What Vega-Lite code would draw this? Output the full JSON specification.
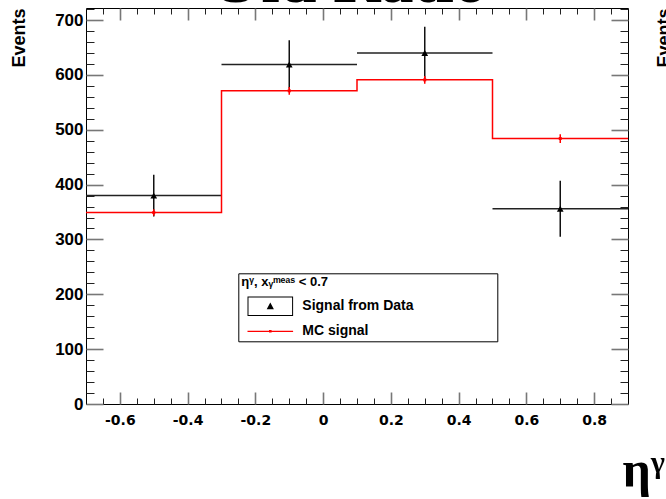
{
  "$schema": "https://vega.github.io/schema/vega-lite/v6.json",
  "width": 542,
  "height": 396,
  "autosize": "none",
  "padding": {"left": 86, "top": 8, "right": 38, "bottom": 95},
  "background": "white",
  "config": {
    "view": {"stroke": "black", "strokeWidth": 1},
    "axis": {"grid": false, "domain": false}
  },
  "data": {
    "values": [
      {"series": "Signal from Data", "center": -0.5, "lo": -0.7, "hi": -0.3, "value": 380, "low": 342, "high": 418},
      {"series": "Signal from Data", "center": -0.1, "lo": -0.3, "hi": 0.1, "value": 619, "low": 575, "high": 663},
      {"series": "Signal from Data", "center": 0.3, "lo": 0.1, "hi": 0.5, "value": 640, "low": 592, "high": 688},
      {"series": "Signal from Data", "center": 0.7, "lo": 0.5, "hi": 0.9, "value": 356, "low": 305, "high": 407},
      {"series": "MC signal", "center": -0.5, "lo": -0.7, "hi": -0.3, "value": 349, "low": 343, "high": 355},
      {"series": "MC signal", "center": -0.1, "lo": -0.3, "hi": 0.1, "value": 571, "low": 564, "high": 578},
      {"series": "MC signal", "center": 0.3, "lo": 0.1, "hi": 0.5, "value": 591, "low": 584, "high": 598},
      {"series": "MC signal", "center": 0.7, "lo": 0.5, "hi": 0.9, "value": 484, "low": 476, "high": 492}
    ]
  },
  "resolve": {"axis": {"x": "independent", "y": "independent"}},
  "layer": [
    {
      "mark": {"type": "point", "filled": true, "size": 0, "opacity": 1},
      "encoding": {
        "x": {
          "field": "center", "type": "quantitative",
          "scale": {"domain": [-0.7, 0.9], "nice": false, "zero": false},
          "axis": {
            "orient": "bottom",
            "values": [-0.65,-0.6,-0.55,-0.5,-0.45,-0.4,-0.35,-0.3,-0.25,-0.2,-0.15,-0.1,-0.05,0,0.05,0.1,0.15,0.2,0.25,0.3,0.35,0.4,0.45,0.5,0.55,0.6,0.65,0.7,0.75,0.8,0.85],
            "labelExpr": "abs(round(datum.value*20)) % 4 == 0 ? '' + datum.value : ''",
            "tickSize": {"condition": {"test": "abs(round(datum.value*20)) % 4 == 0", "value": -12}, "value": -6},
            "tickColor": {"condition": {"test": "abs(round(datum.value*20)) % 4 == 0", "value": "#777"}, "value": "#222"},
            "tickWidth": {"condition": {"test": "abs(round(datum.value*20)) % 4 == 0", "value": 1.6}, "value": 1},
            "labelPadding": 21,
            "labelFont": "DejaVu Sans", "labelFontWeight": "bold", "labelFontSize": 14, "labelColor": "black",
            "labelBaseline": "top",
            "labelOverlap": false,
            "title": "ηᵞ",
            "titleFont": "Liberation Serif", "titleFontWeight": "bold", "titleFontSize": 50, "titleColor": "black",
            "titleX": 536, "titleY": 81, "titleAlign": "left", "titleBaseline": "alphabetic"
          }
        },
        "y": {
          "field": "value", "type": "quantitative",
          "scale": {"domain": [0, 722], "nice": false},
          "axis": {
            "orient": "left",
            "values": [0,20,40,60,80,100,120,140,160,180,200,220,240,260,280,300,320,340,360,380,400,420,440,460,480,500,520,540,560,580,600,620,640,660,680,700,720],
            "labelExpr": "datum.value % 100 == 0 ? '' + datum.value : ''",
            "tickSize": {"condition": {"test": "datum.value % 100 == 0", "value": -17}, "value": -8},
            "tickColor": {"condition": {"test": "datum.value % 100 == 0", "value": "#777"}, "value": "#222"},
            "tickWidth": {"condition": {"test": "datum.value % 100 == 0", "value": 1.6}, "value": 1},
            "labelPadding": 20,
            "labelFont": "Liberation Sans", "labelFontWeight": "bold", "labelFontSize": 17, "labelColor": "black",
            "labelOverlap": false,
            "title": "Events",
            "titleFont": "Liberation Sans", "titleFontWeight": "bold", "titleFontSize": 18, "titleColor": "black",
            "titleAngle": 270, "titleX": -67, "titleY": 0, "titleAlign": "right", "titleBaseline": "middle"
          }
        },
        "color": {
          "field": "series", "type": "nominal",
          "scale": {"domain": ["Signal from Data", "MC signal"], "range": ["black", "red"]},
          "legend": {
            "title": "ηᵞ, xᵧᵐᵉᵃˢ < 0.7",
            "orient": "none", "legendX": 152.3, "legendY": 265.3,
            "strokeColor": "black", "fillColor": "white", "padding": 3,
            "symbolSize": 400, "symbolOffset": 19, "labelOffset": 22,
            "symbolStrokeWidth": 0, "symbolOpacity": 1,
            "labelFont": "Liberation Sans", "labelFontWeight": "bold", "labelFontSize": 14, "labelColor": "black",
            "labelLimit": 400,
            "titleFont": "Liberation Sans", "titleFontWeight": "bold", "titleFontSize": 13, "titleColor": "black",
            "titlePadding": 7, "rowPadding": 5,
            "labelExpr": "datum.label + '⠀⠀⠀⠀⠀⠀⠀⠀'"
          }
        },
        "shape": {
          "field": "series", "type": "nominal",
          "scale": {
            "domain": ["Signal from Data", "MC signal"],
            "range": [
              "M-2.28,-0.97H2.28V0.97H-2.28Z M-2.18,-0.87V0.87H2.18V-0.87Z M0,-0.38L0.36,0.3H-0.36Z",
              "M-2.28,-0.06H2.28V0.06H-2.28Z M-0.13,-0.13H0.13V0.13H-0.13Z"
            ]
          },
          "legend": {
            "labelExpr": "datum.label + '⠀⠀⠀⠀⠀⠀⠀⠀'"
          }
        }
      }
    },
    {
      "transform": [{"filter": "datum.series == 'Signal from Data'"}],
      "mark": {"type": "rule", "color": "#222", "strokeWidth": 1.5},
      "encoding": {
        "x": {"field": "lo", "type": "quantitative", "scale": {"domain": [-0.7, 0.9], "nice": false, "zero": false}, "axis": null},
        "x2": {"field": "hi"},
        "y": {"field": "value", "type": "quantitative", "scale": {"domain": [0, 722], "nice": false}, "axis": null}
      }
    },
    {
      "transform": [{"filter": "datum.series == 'Signal from Data'"}],
      "mark": {"type": "rule", "color": "#111", "strokeWidth": 1.5},
      "encoding": {
        "x": {"field": "center", "type": "quantitative", "scale": {"domain": [-0.7, 0.9], "nice": false, "zero": false}, "axis": null},
        "y": {"field": "low", "type": "quantitative", "scale": {"domain": [0, 722], "nice": false}, "axis": null},
        "y2": {"field": "high"}
      }
    },
    {
      "transform": [{"filter": "datum.series == 'MC signal'"}, {"fold": ["lo", "hi"], "as": ["edge", "xe"]}],
      "mark": {"type": "line", "color": "#f00", "strokeWidth": 1.5},
      "encoding": {
        "x": {
          "field": "xe", "type": "quantitative",
          "scale": {"domain": [-0.7, 0.9], "nice": false, "zero": false},
          "axis": {
            "orient": "top",
            "values": [-0.65,-0.6,-0.55,-0.5,-0.45,-0.4,-0.35,-0.3,-0.25,-0.2,-0.15,-0.1,-0.05,0,0.05,0.1,0.15,0.2,0.25,0.3,0.35,0.4,0.45,0.5,0.55,0.6,0.65,0.7,0.75,0.8,0.85],
            "labels": false,
            "tickSize": {"condition": {"test": "abs(round(datum.value*20)) % 4 == 0", "value": -12}, "value": -6},
            "tickColor": {"condition": {"test": "abs(round(datum.value*20)) % 4 == 0", "value": "#777"}, "value": "#222"},
            "tickWidth": {"condition": {"test": "abs(round(datum.value*20)) % 4 == 0", "value": 1.6}, "value": 1},
            "title": "Old Ratio",
            "titleFont": "Liberation Serif", "titleFontWeight": "bold", "titleFontSize": 66, "titleColor": "black",
            "titleX": 262, "titleY": -7, "titleAlign": "center", "titleBaseline": "alphabetic"
          }
        },
        "y": {
          "field": "value", "type": "quantitative",
          "scale": {"domain": [0, 722], "nice": false},
          "axis": {
            "orient": "right",
            "values": [0,20,40,60,80,100,120,140,160,180,200,220,240,260,280,300,320,340,360,380,400,420,440,460,480,500,520,540,560,580,600,620,640,660,680,700,720],
            "labels": false,
            "tickSize": {"condition": {"test": "datum.value % 100 == 0", "value": -17}, "value": -8},
            "tickColor": {"condition": {"test": "datum.value % 100 == 0", "value": "#777"}, "value": "#222"},
            "tickWidth": {"condition": {"test": "datum.value % 100 == 0", "value": 1.6}, "value": 1},
            "title": "Events",
            "titleFont": "Liberation Sans", "titleFontWeight": "bold", "titleFontSize": 18, "titleColor": "black",
            "titleAngle": 270, "titleX": 36, "titleY": 0, "titleAlign": "right", "titleBaseline": "middle"
          }
        },
        "order": [{"field": "xe", "type": "quantitative"}, {"field": "edge", "type": "nominal"}]
      }
    },
    {
      "transform": [{"filter": "datum.series == 'MC signal'"}],
      "mark": {"type": "rule", "color": "#f00", "strokeWidth": 1.5},
      "encoding": {
        "x": {"field": "center", "type": "quantitative", "scale": {"domain": [-0.7, 0.9], "nice": false, "zero": false}, "axis": null},
        "y": {"field": "low", "type": "quantitative", "scale": {"domain": [0, 722], "nice": false}, "axis": null},
        "y2": {"field": "high"}
      }
    },
    {
      "transform": [{"filter": "datum.series == 'MC signal'"}],
      "mark": {"type": "point", "shape": "square", "filled": true, "color": "#f00", "size": 9, "opacity": 1},
      "encoding": {
        "x": {"field": "center", "type": "quantitative", "scale": {"domain": [-0.7, 0.9], "nice": false, "zero": false}, "axis": null},
        "y": {"field": "value", "type": "quantitative", "scale": {"domain": [0, 722], "nice": false}, "axis": null}
      }
    },
    {
      "transform": [{"filter": "datum.series == 'Signal from Data'"}],
      "mark": {"type": "point", "shape": "triangle-up", "filled": true, "color": "black", "size": 45, "opacity": 1},
      "encoding": {
        "x": {"field": "center", "type": "quantitative", "scale": {"domain": [-0.7, 0.9], "nice": false, "zero": false}, "axis": null},
        "y": {"field": "value", "type": "quantitative", "scale": {"domain": [0, 722], "nice": false}, "axis": null}
      }
    }
  ]
}
